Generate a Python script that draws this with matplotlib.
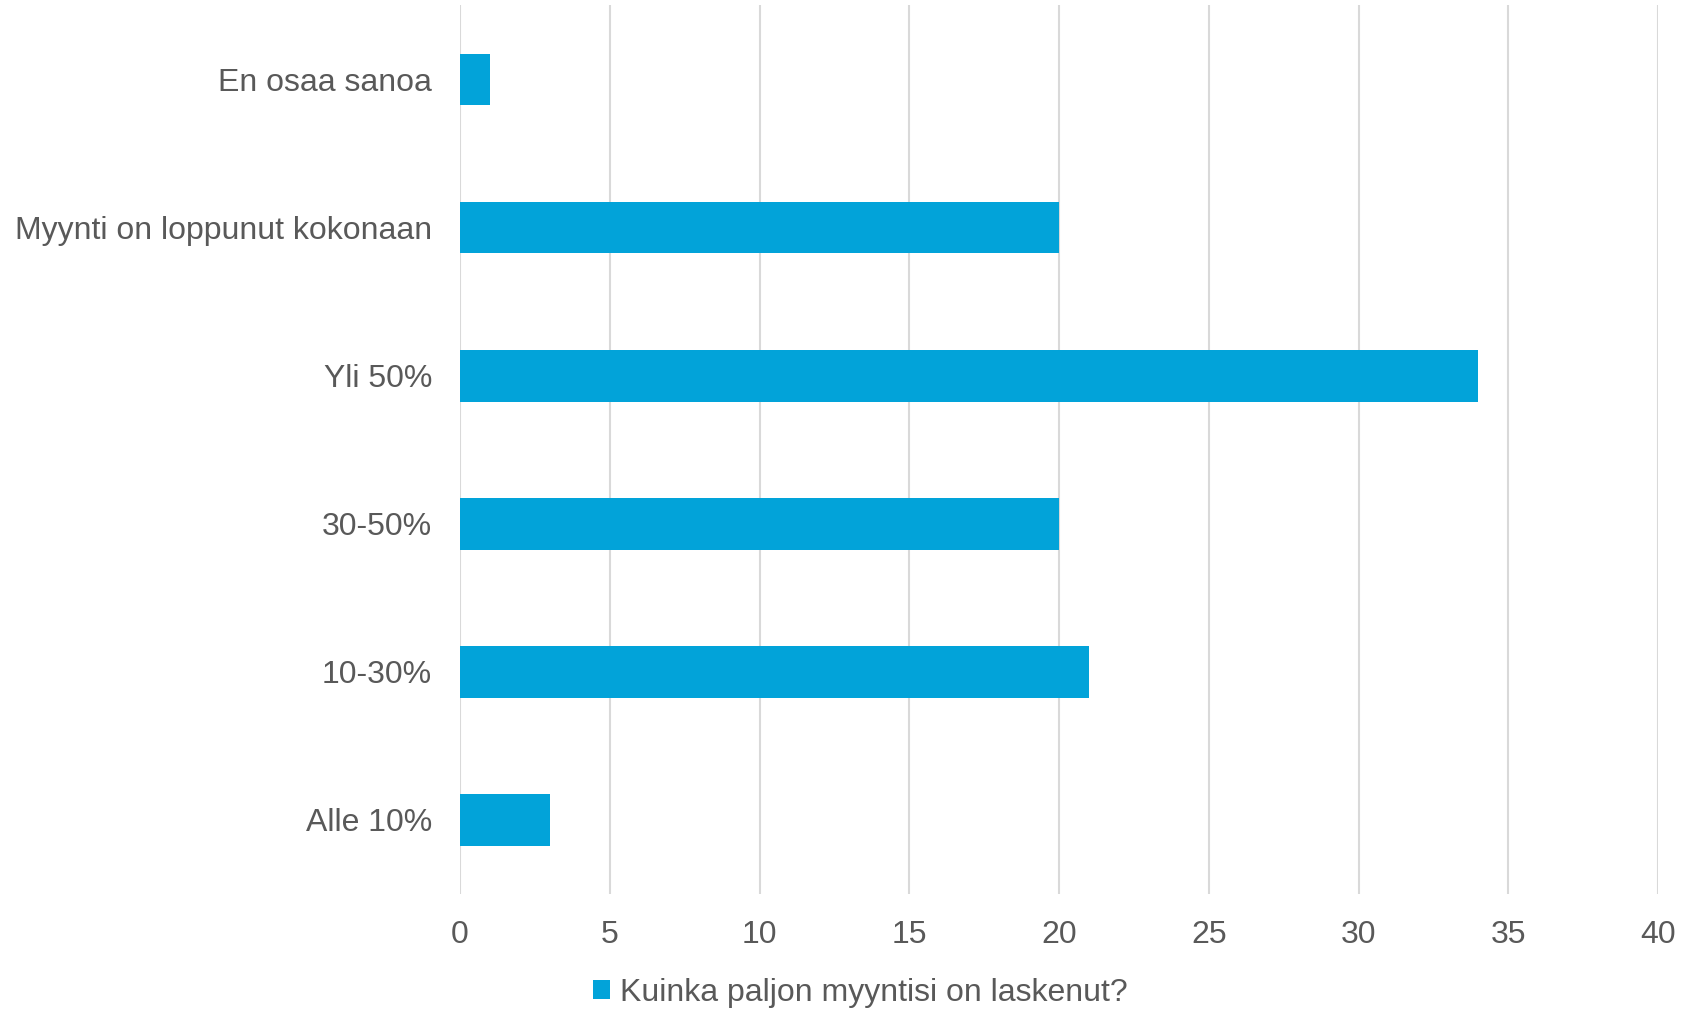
import matplotlib
matplotlib.use("Agg")
import matplotlib.pyplot as plt
from matplotlib.patches import Patch

categories = ["Alle 10%", "10-30%", "30-50%", "Yli 50%", "Myynti on loppunut kokonaan", "En osaa sanoa"]
values = [3, 21, 20, 34, 20, 1]
xticks = [0, 5, 10, 15, 20, 25, 30, 35, 40]
series_name = "Kuinka paljon myyntisi on laskenut?"

plt.rcParams['font.family'] = ['Liberation Sans', 'DejaVu Sans']
text_color = '#595959'
bar_color = '#02A3D9'
grid_color = '#D9D9D9'

fig = plt.figure(figsize=(16.85, 10.11), dpi=100)
ax = fig.add_axes([460/1685, 1 - 894/1011, (1658-460)/1685, (894-5.4)/1011])

ax.barh(range(len(categories)), values, height=0.35, color=bar_color, zorder=3)
ax.set_yticks(range(len(categories)))
ax.set_yticklabels(categories)
ax.set_ylim(-0.5, len(categories) - 0.5)
ax.set_xlim(0, 40)
ax.set_xticks(xticks)
ax.set_xticklabels([str(t) for t in xticks])
ax.xaxis.grid(True, color=grid_color, linewidth=1.5, zorder=0)
ax.set_axisbelow(True)
for s in ax.spines.values():
    s.set_visible(False)
ax.tick_params(axis='both', length=0, labelsize=23, labelcolor=text_color)
ax.tick_params(axis='y', pad=20)
ax.tick_params(axis='x', pad=19)

handles = [Patch(facecolor=bar_color, edgecolor='none', label=series_name)]
fig.legend(handles=handles, loc='center', bbox_to_anchor=(860/1685, 1 - 993/1011),
           frameon=False, fontsize=23, labelcolor=text_color,
           handlelength=0.55, handleheight=0.55, handletextpad=0.3)

fig.savefig("out.png", dpi=100, facecolor='white')
